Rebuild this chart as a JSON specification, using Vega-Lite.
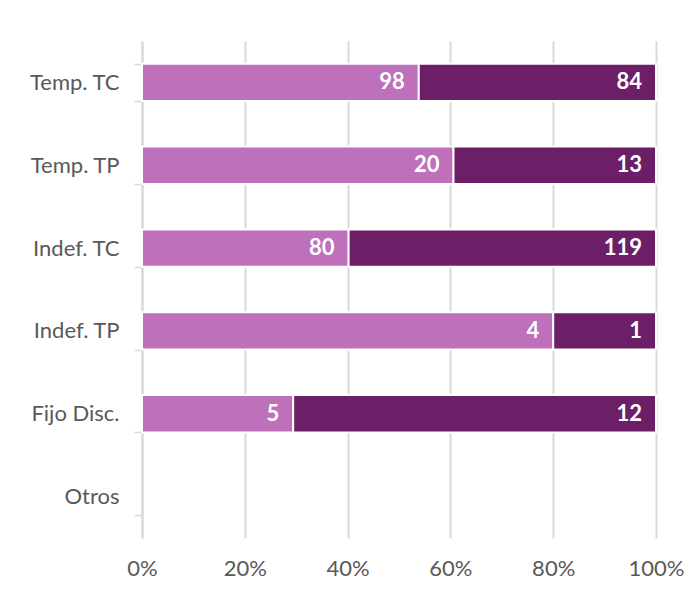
{
  "$schema": "https://vega.github.io/schema/vega-lite/v6.json",
  "width": 514,
  "height": 497,
  "autosize": {"type": "none"},
  "padding": {"left": 142, "top": 41, "right": 44, "bottom": 57},
  "background": "white",
  "config": {
    "view": {"stroke": null},
    "font": "Lato"
  },
  "data": {
    "values": [
      {"cat": "Temp. TC", "serie": "Serie 1", "order": 1, "value": 98},
      {"cat": "Temp. TC", "serie": "Serie 2", "order": 2, "value": 84},
      {"cat": "Temp. TP", "serie": "Serie 1", "order": 1, "value": 20},
      {"cat": "Temp. TP", "serie": "Serie 2", "order": 2, "value": 13},
      {"cat": "Indef. TC", "serie": "Serie 1", "order": 1, "value": 80},
      {"cat": "Indef. TC", "serie": "Serie 2", "order": 2, "value": 119},
      {"cat": "Indef. TP", "serie": "Serie 1", "order": 1, "value": 4},
      {"cat": "Indef. TP", "serie": "Serie 2", "order": 2, "value": 1},
      {"cat": "Fijo Disc.", "serie": "Serie 1", "order": 1, "value": 5},
      {"cat": "Fijo Disc.", "serie": "Serie 2", "order": 2, "value": 12}
    ]
  },
  "transform": [
    {"stack": "value", "groupby": ["cat"], "sort": [{"field": "order", "order": "ascending"}], "offset": "normalize", "as": ["v0", "v1"]}
  ],
  "encoding": {
    "y": {
      "field": "cat",
      "type": "nominal",
      "sort": ["Temp. TC", "Temp. TP", "Indef. TC", "Indef. TP", "Fijo Disc.", "Otros"],
      "scale": {"domain": ["Temp. TC", "Temp. TP", "Indef. TC", "Indef. TP", "Fijo Disc.", "Otros"], "paddingInner": 0.55, "paddingOuter": 0.275},
      "axis": {
        "title": null,
        "tickBand": "extent",
        "grid": false,
        "ticks": true,
        "tickSize": 8,
        "tickColor": "#D9D9D9",
        "tickWidth": 1.5,
        "domainColor": "#D9D9D9",
        "domainWidth": 2,
        "labelFontSize": 22,
        "labelColor": "#595959",
        "labelPadding": 15,
        "labelFont": "Lato"
      }
    }
  },
  "layer": [
    {
      "mark": {"type": "bar", "stroke": "white", "strokeWidth": 2},
      "encoding": {
        "x": {
          "field": "v0",
          "type": "quantitative",
          "scale": {"domain": [0, 1], "nice": false},
          "axis": {
            "title": null,
            "format": ".0%",
            "values": [0, 0.2, 0.4, 0.6, 0.8, 1],
            "grid": true,
            "gridColor": "#D9D9D9",
            "gridWidth": 2,
            "domain": false,
            "ticks": false,
            "tickSize": 0,
            "labelFlush": false,
            "labelBound": false,
            "labelOverlap": false,
            "labelPadding": 20,
            "labelFontSize": 22,
            "labelColor": "#595959",
            "labelFont": "Lato"
          }
        },
        "x2": {"field": "v1"},
        "color": {
          "field": "serie",
          "type": "nominal",
          "scale": {"domain": ["Serie 1", "Serie 2"], "range": ["#BE70BA", "#6C1F67"]},
          "legend": null
        }
      }
    },
    {
      "mark": {"type": "text", "align": "right", "baseline": "middle", "dx": -14, "fontSize": 22, "fontWeight": "bold", "color": "white", "font": "Lato"},
      "encoding": {
        "x": {"field": "v1", "type": "quantitative"},
        "text": {"field": "value", "type": "quantitative"}
      }
    }
  ]
}
